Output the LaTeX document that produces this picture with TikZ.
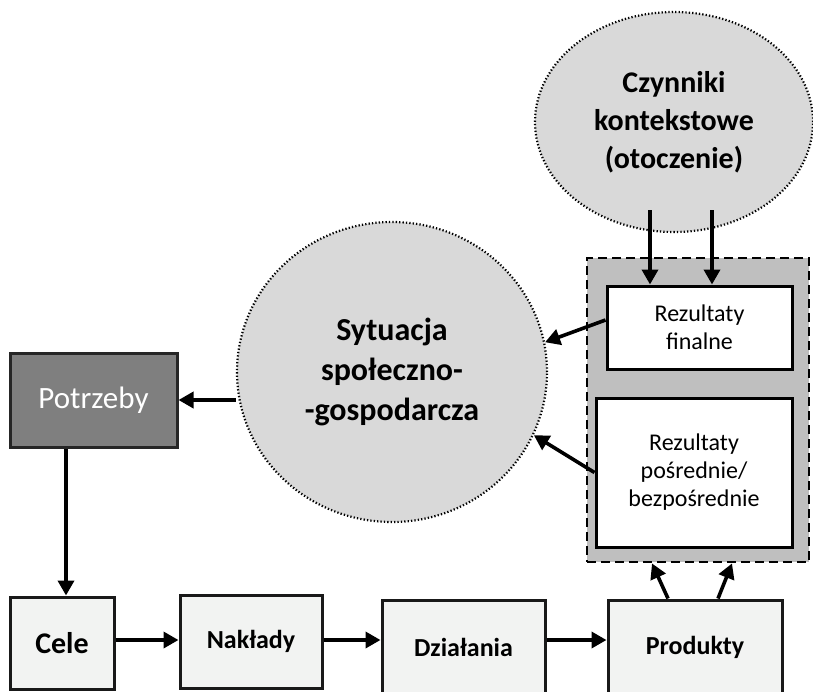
\documentclass[tikz,border=0pt]{standalone}
\usepackage{fontspec}
\setmainfont{Carlito}
\usetikzlibrary{shapes.geometric,arrows.meta,calc}

\definecolor{ellfill}{HTML}{D9D9D9}
\definecolor{groupfill}{HTML}{BFBFBF}
\definecolor{needfill}{HTML}{7F7F7F}
\definecolor{boxfill}{HTML}{F2F3F2}

\tikzset{
  cloud/.style={ellipse, draw=black, fill=ellfill, line width=2.2pt,
    dash pattern=on 1.3pt off 2.1pt, inner sep=0pt, align=center},
  group/.style={draw=black, fill=groupfill, line width=2.8pt,
    dash pattern=on 9pt off 5pt, inner sep=0pt},
  resbox/.style={draw=black, fill=white, line width=3pt, inner sep=0pt,
    align=center, font=\fontsize{24}{28}\selectfont},
  stagebox/.style={draw=black!90, fill=boxfill, line width=3pt, inner sep=0pt,
    align=center, font=\fontsize{26}{30}\selectfont\bfseries},
  arr/.style={line width=3.6pt, -{Triangle[length=15pt,width=16pt]}},
}

\begin{document}
\begin{tikzpicture}[x=1pt, y=-1pt]
\useasboundingbox (0,0) rectangle (813,691);
\clip (0,0) rectangle (813,691);

% context factors
\node[cloud, minimum width=278pt, minimum height=220pt,
      font=\fontsize{30}{38}\selectfont\bfseries] (ctx) at (674,122)
  {Czynniki\\kontekstowe\\(otoczenie)};

% socio-economic situation
\node[cloud, minimum width=310pt, minimum height=300pt,
      font=\fontsize{32}{40}\selectfont\bfseries] (sit) at (392,372)
  {Sytuacja\\społeczno-\\-gospodarcza};

% results group
\node[group, minimum width=222pt, minimum height=304pt] (grp) at (698,410) {};
\node[resbox, minimum width=185pt, minimum height=83pt] (fin) at (699.5,327.5)
  {Rezultaty\\finalne};
\node[resbox, minimum width=196pt, minimum height=149pt] (pos) at (694,472.5)
  {Rezultaty\\pośrednie/\\bezpośrednie};

% needs
\node[draw=black!85, fill=needfill, line width=3pt, text=white,
      minimum width=167pt, minimum height=94pt, inner sep=0pt,
      font=\fontsize{31}{34}\selectfont] (pot) at (93.5,400) {Potrzeby};

% intervention chain
\node[stagebox, minimum width=104pt, minimum height=92pt,
      font=\fontsize{30}{32}\selectfont\bfseries] (cele) at (62,643) {Cele};
\node[stagebox, minimum width=142pt, minimum height=93pt] (nak) at (251,641.5) {Nakłady};
\node[stagebox, minimum width=163pt, minimum height=94pt] (dzi) at (463.5,647) {Działania};
\node[stagebox, minimum width=174pt, minimum height=94pt] (pro) at (695,647) {Produkty};

% connectors
\coordinate (c1) at (650,210);
\coordinate (c2) at (712,210);
\draw[arr] (c1) -- (c1 |- fin.north);
\draw[arr] (c2) -- (c2 |- fin.north);

\draw[arr] ([yshift=7.5pt]fin.west) -- (sit.11);
\draw[arr] (pos.west) -- (sit.-24);
\draw[arr] (pot.east -| sit.west) -- (pot.east);
\draw[arr] ([xshift=4pt]cele.north |- pot.south) -- ([xshift=4pt]cele.north);

\draw[arr] ([yshift=3pt]cele.east) -- ([yshift=3pt]cele.east -| nak.west);
\draw[arr] ([yshift=1.5pt]nak.east) -- ([yshift=1.5pt]nak.east -| dzi.west);
\draw[arr] ([yshift=7pt]dzi.east) -- ([yshift=7pt]dzi.east -| pro.west);

\draw[arr] ([xshift=-27pt]pro.north) -- ([xshift=-43pt]pro.north |- grp.south);
\draw[arr] ([xshift=23pt]pro.north) -- ([xshift=37pt]pro.north |- grp.south);
\end{tikzpicture}
\end{document}
